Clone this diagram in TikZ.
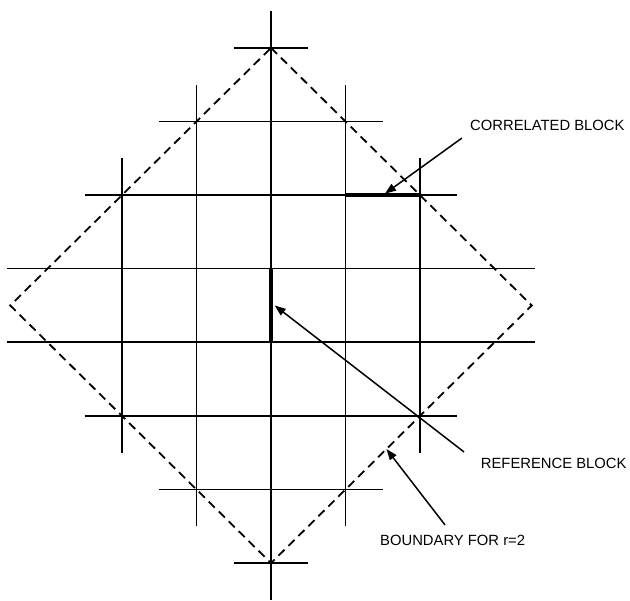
\documentclass[tikz,border=0pt]{standalone}
\usepackage{fontspec}
\setmainfont{Liberation Sans}
\usetikzlibrary{arrows.meta}
\tikzset{
  gridline/.style={line width=1.6pt, line cap=butt},
  blockline/.style={line width=3.6pt},
  boundary/.style={line width=1.8pt, dash pattern=on 8.5pt off 5.5pt},
  pointer/.style={line width=1.5pt, -{Triangle[length=11pt,width=8pt]}},
  lbl/.style={anchor=west, inner sep=0pt, font=\fontsize{14.8}{18}\selectfont}
}
\begin{document}
\begin{tikzpicture}[x=74.5pt,y=73.6pt]
\useasboundingbox (-3.6376,-4.0149) rectangle (4.8188,4.1508);
% vertical grid lines
\foreach \k/\e in {-2/2,-1/3,0/4,1/3,2/2}
  \draw[gridline] (\k,-\e) -- (\k,\e);
% horizontal grid lines
\foreach \m/\e in {0.5/3.55,1.5/2.5,2.5/1.5,3.5/0.5}{
  \draw[gridline] (-\e,\m) -- (\e,\m);
  \draw[gridline] (-\e,-\m) -- (\e,-\m);
}
% boundary diamond
\draw[boundary] (0,3.5) -- (3.5,0) -- (0,-3.5) -- (-3.5,0) -- cycle;
% reference and correlated blocks
\draw[blockline] (0,0.5) -- (0,-0.5);
\draw[blockline] (1,1.5) -- (2,1.5);
% labels
\node[lbl] (corr) at (2.671,2.4525) {CORRELATED BLOCK};
\node[lbl] (ref) at (2.815,-2.140) {REFERENCE BLOCK};
\node[lbl] (bnd) at (1.463,-3.186) {BOUNDARY FOR r=2};
% pointer coordinates
\coordinate (corrS) at (2.564,2.276);
\coordinate (corrT) at (1.53,1.52);
\coordinate (refS) at (2.591,-1.99);
\coordinate (refT) at (0.05,0);
\coordinate (bndS) at (2.336,-2.982);
\coordinate (bndT) at (1.55,-1.95);
\draw[pointer] (corrS) -- (corrT);
\draw[pointer] (refS) -- (refT);
\draw[pointer] (bndS) -- (bndT);
\end{tikzpicture}
\end{document}
